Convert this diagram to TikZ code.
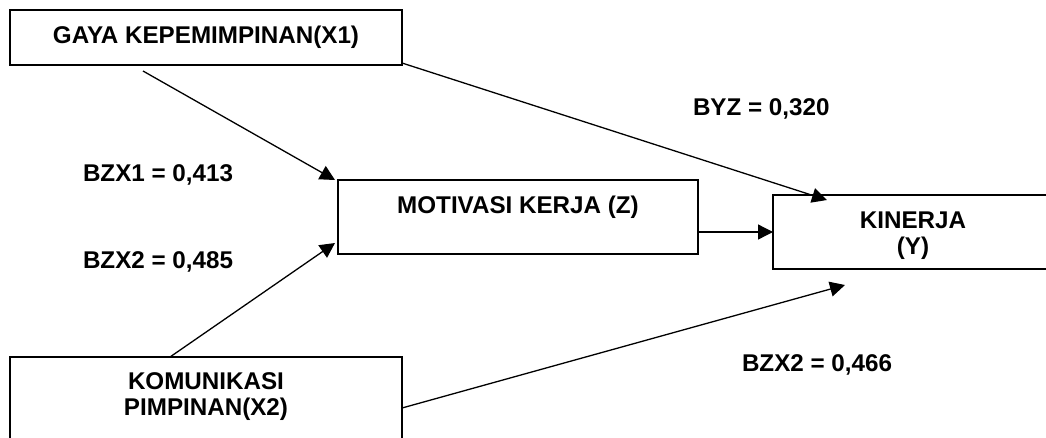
\documentclass[tikz,border=0pt]{standalone}
\usepackage{fontspec}
\setmainfont{Liberation Sans}
\usetikzlibrary{arrows.meta,calc}
\begin{document}
\begin{tikzpicture}[x=1pt,y=-1pt,
  box/.style={draw,line width=1.6pt,inner sep=0pt,outer sep=0pt},
  lbl/.style={font=\bfseries\fontsize{24.2}{26}\selectfont,inner sep=0pt,outer sep=0pt},
  arr/.style={-{Triangle[length=15pt,width=15pt]},line width=1.3pt}]
\useasboundingbox (0,0) rectangle (1046,437);
\clip (0,0) rectangle (1046,437);
% boxes
\node[box,minimum width=392pt,minimum height=55pt] (x1) at (206,37.5) {};
\node[box,minimum width=360pt,minimum height=74pt] (z) at (518,217) {};
\node[box,minimum width=280pt,minimum height=74pt] (y) at (913,232) {};
\node[box,minimum width=392pt,minimum height=88pt] (x2) at (206,401) {};
% box texts
\node[lbl,anchor=base] (tx1) at (206,43) {GAYA KEPEMIMPINAN(X1)};
\node[lbl,anchor=base] (tz) at (518,213) {MOTIVASI KERJA (Z)};
\node[lbl,anchor=base] (ty1) at (913,228) {KINERJA};
\node[lbl,anchor=base] (ty2) at (913,254) {(Y)};
\node[lbl,anchor=base] (tx2a) at (206,389) {KOMUNIKASI};
\node[lbl,anchor=base] (tx2b) at (206,415) {PIMPINAN(X2)};
% coefficient labels
\node[lbl,anchor=base west] (l1) at (83,181) {BZX1 = 0,413};
\node[lbl,anchor=base west] (l2) at (83,268) {BZX2 = 0,485};
\node[lbl,anchor=base west] (l3) at (693,115) {BYZ = 0,320};
\node[lbl,anchor=base west] (l4) at (742,371) {BZX2 = 0,466};
% connectors
\draw[arr] ($(x1.south west)+(133,6)$) -- ($(z.north west)+(-3,0)$);
\draw[arr] ($(x1.south east)+(0,-2)$) -- ($(y.north west)+(54,5)$);
\draw[arr] ($(z.east)+(0,15)$) -- (y.west);
\draw[arr] ($(x2.north west)+(160,0)$) -- ($(z.south west)+(-3,-11)$);
\draw[arr] ($(x2.east)+(0,7)$) -- ($(y.south west)+(72,16)$);
\end{tikzpicture}
\end{document}
